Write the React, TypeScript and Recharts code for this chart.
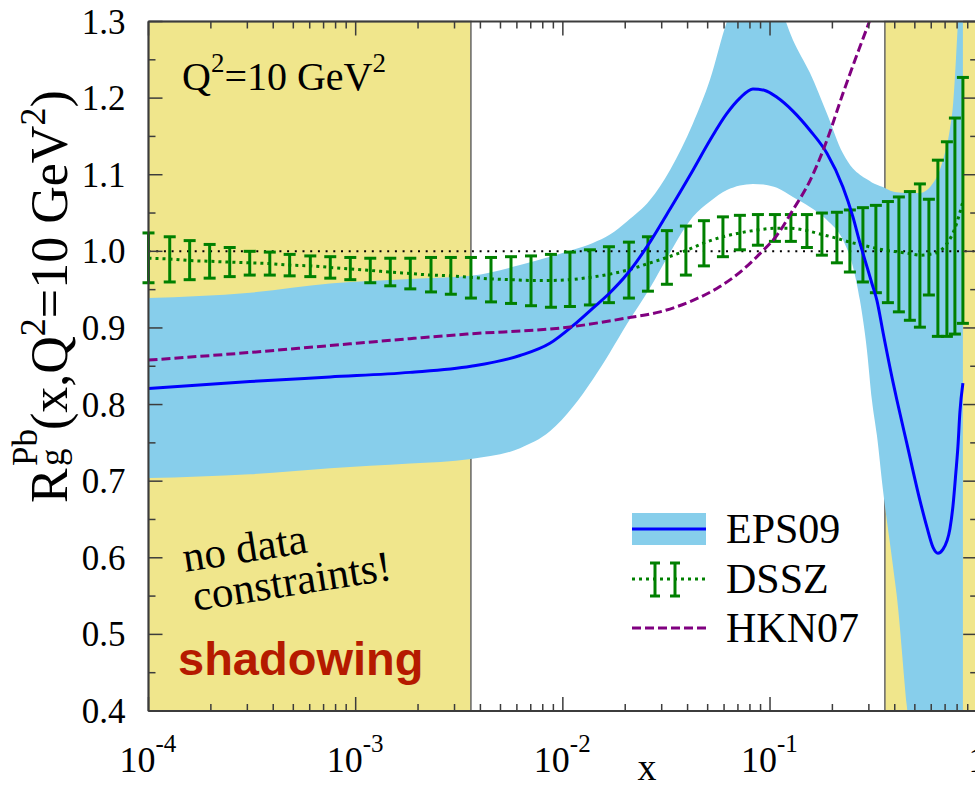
import { ComposedChart, Area, Line, XAxis, YAxis, ReferenceArea, ErrorBar } from 'recharts';

// EPS09 central set and its uncertainty band
const epsX = [
  0.0001, 0.000309, 0.000752, 0.001829, 0.0036, 0.00621, 0.00866, 0.01119, 0.01397, 0.01688, 0.02039,
  0.02633, 0.03287, 0.04245, 0.05129, 0.06194, 0.07155, 0.0827, 0.0945, 0.108, 0.129, 0.1558, 0.1882,
  0.2248, 0.2513, 0.2716, 0.2936, 0.3103, 0.328, 0.3507, 0.3918, 0.4096, 0.4577, 0.5291, 0.5719, 0.6113,
  0.6461, 0.6832, 0.7386, 0.7635, 0.7893, 0.8071, 0.8251, 0.8531,
];
const epsCentral = [
  0.821, 0.83, 0.836, 0.842, 0.85, 0.864, 0.88, 0.903, 0.926, 0.946, 0.97, 1.012, 1.055, 1.106, 1.145,
  1.18, 1.2, 1.212, 1.21, 1.201, 1.183, 1.158, 1.128, 1.084, 1.045, 1.011, 0.98, 0.958, 0.936, 0.895,
  0.83, 0.806, 0.749, 0.675, 0.64, 0.614, 0.606, 0.611, 0.638, 0.667, 0.712, 0.745, 0.79, 0.828,
];
const epsLow = [
  0.704, 0.709, 0.717, 0.723, 0.729, 0.743, 0.765, 0.797, 0.833, 0.868, 0.905, 0.952, 0.998, 1.045, 1.065,
  1.08, 1.086, 1.088, 1.087, 1.083, 1.071, 1.058, 1.041, 1.015, 0.98, 0.936, 0.871, 0.806, 0.76, 0.689,
  0.59, 0.549, 0.406, 0.25, 0.17, 0.1, 0.05, 0.0, -0.05, -0.07, -0.09, -0.1, -0.1, -0.1,
];
const epsHigh = [
  0.939, 0.946, 0.958, 0.964, 0.968, 0.982, 0.993, 1.002, 1.011, 1.022, 1.039, 1.067, 1.106, 1.167, 1.224,
  1.3, 1.34, 1.36, 1.36, 1.33, 1.276, 1.233, 1.18, 1.128, 1.108, 1.1, 1.094, 1.09, 1.087, 1.084,
  1.078, 1.077, 1.076, 1.076, 1.08, 1.089, 1.1, 1.119, 1.16, 1.19, 1.25, 1.3, 1.36, 1.45,
];

// DSSZ central values with error bars
const dsszX = [
  0.0001, 0.0001266, 0.000158, 0.0001973, 0.0002466, 0.000308, 0.000385, 0.00048, 0.000604, 0.000754,
  0.000942, 0.001176, 0.001469, 0.001835, 0.00231, 0.00288, 0.0036, 0.0045, 0.00562, 0.00702, 0.00876,
  0.01082, 0.01351, 0.01669, 0.02084, 0.02575, 0.03179, 0.03926, 0.04797, 0.05925, 0.07155, 0.08741,
  0.1056, 0.1261, 0.1507, 0.178, 0.2103, 0.2429, 0.2808, 0.3243, 0.3707, 0.4188, 0.4732, 0.529, 0.5846,
  0.646, 0.7141, 0.7805, 0.8531,
];
const dsszCentral = [
  0.991, 0.99, 0.988, 0.987, 0.986, 0.985, 0.984, 0.982, 0.981, 0.979, 0.977, 0.975, 0.973, 0.971, 0.969,
  0.968, 0.966, 0.964, 0.963, 0.962, 0.962, 0.963, 0.966, 0.97, 0.976, 0.984, 0.992, 1.001, 1.011, 1.019,
  1.024, 1.028, 1.03, 1.03, 1.027, 1.022, 1.017, 1.012, 1.008, 1.004, 1.001, 0.999, 0.997, 0.995, 0.996,
  0.999, 1.01, 1.03, 1.065,
];
const dsszLow = [
  0.959, 0.96, 0.963, 0.965, 0.967, 0.969, 0.969, 0.968, 0.967, 0.965, 0.963, 0.959, 0.955, 0.951, 0.947,
  0.944, 0.939, 0.934, 0.932, 0.929, 0.927, 0.928, 0.93, 0.933, 0.939, 0.948, 0.957, 0.969, 0.981, 0.993,
  1.002, 1.008, 1.013, 1.013, 1.005, 0.995, 0.985, 0.973, 0.96, 0.946, 0.933, 0.921, 0.91, 0.901, 0.943,
  0.889, 0.889, 0.892, 0.906,
];
const dsszHigh = [
  1.024, 1.019, 1.014, 1.009, 1.005, 1.0, 0.999, 0.996, 0.994, 0.993, 0.992, 0.991, 0.991, 0.991, 0.992,
  0.992, 0.992, 0.992, 0.993, 0.994, 0.996, 0.999, 1.002, 1.006, 1.012, 1.019, 1.027, 1.033, 1.04, 1.045,
  1.047, 1.048, 1.048, 1.048, 1.048, 1.05, 1.051, 1.054, 1.057, 1.06, 1.065, 1.071, 1.078, 1.088, 1.068,
  1.119, 1.143, 1.174, 1.227,
];

// HKN07
const hknX = [
  0.0001, 0.000309, 0.000752, 0.001829, 0.003445, 0.01058, 0.02039, 0.02942, 0.04245, 0.05731, 0.07398,
  0.0894, 0.108, 0.129, 0.1558, 0.1882, 0.2248, 0.2716, 0.3035, 0.3392,
];
const hknValues = [
  0.858, 0.868, 0.877, 0.886, 0.892, 0.901, 0.913, 0.921, 0.936, 0.954, 0.976, 0.997, 1.021, 1.054, 1.092,
  1.145, 1.206, 1.267, 1.302, 1.34,
];

const unityX = [0.0001, 1];
const unityValues = [1, 1];

// shaded x ranges
const lowXRegion = [0.0001, 0.0036];
const highXRegion = [0.3584, 1];

const xMajorTicks = [0.0001, 0.001, 0.01, 0.1, 1];
const xTickExponents = ['-4', '-3', '-2', '-1', ''];
const xMinorTicks = [
  0.0002, 0.0003, 0.0004, 0.0005, 0.0006, 0.0007, 0.0008, 0.0009,
  0.002, 0.003, 0.004, 0.005, 0.006, 0.007, 0.008, 0.009,
  0.02, 0.03, 0.04, 0.05, 0.06, 0.07, 0.08, 0.09,
  0.2, 0.3, 0.4, 0.5, 0.6, 0.7, 0.8, 0.9,
];
const yMajorTicks = [0.4, 0.5, 0.6, 0.7, 0.8, 0.9, 1.0, 1.1, 1.2, 1.3];
const yMinorTicks = [0.45, 0.55, 0.65, 0.75, 0.85, 0.95, 1.05, 1.15, 1.25];

const epsData = epsX.map((x, i) => ({ x, mid: epsCentral[i], band: [epsLow[i], epsHigh[i]] }));
const dsszData = dsszX.map((x, i) => ({
  x,
  mid: dsszCentral[i],
  err: [dsszCentral[i] - dsszLow[i], dsszHigh[i] - dsszCentral[i]],
}));
const hknData = hknX.map((x, i) => ({ x, y: hknValues[i] }));
const unityData = unityX.map((x, i) => ({ x, y: unityValues[i] }));

const allXTicks = [...xMajorTicks, ...xMinorTicks].sort((a, b) => a - b);
const allYTicks = [...yMajorTicks, ...yMinorTicks].sort((a, b) => a - b);

const serif = 'Liberation Serif';
const axisColor = '#3c3c3c';
const khaki = '#f0e68c';
const skyblue = '#87ceeb';
const green = '#008000';
const purple = '#800080';

function BottomTick(props: any) {
  const { x, y, payload } = props;
  const i = xMajorTicks.indexOf(payload.value);
  const major = i >= 0;
  return (
    <g>
      <line x1={x} x2={x} y1={y} y2={y - (major ? 14 : 7)} stroke={axisColor} strokeWidth={1.5} />
      {major && xTickExponents[i] === '' && (
        <text x={x} y={y + 61} textAnchor="middle" fontSize={35} fontFamily={serif} fill="#000">1</text>
      )}
      {major && xTickExponents[i] !== '' && (
        <g fontFamily={serif} fill="#000">
          <text x={x + 7} y={y + 61} textAnchor="end" fontSize={36}>10</text>
          <text x={x + 7} y={y + 41} fontSize={25}>{xTickExponents[i]}</text>
        </g>
      )}
    </g>
  );
}

function TopTick(props: any) {
  const { x, y, payload } = props;
  const major = xMajorTicks.includes(payload.value);
  return <line x1={x} x2={x} y1={y} y2={y + (major ? 14 : 7)} stroke={axisColor} strokeWidth={1.5} />;
}

function LeftTick(props: any) {
  const { x, y, payload } = props;
  const major = yMajorTicks.includes(payload.value);
  return (
    <g>
      <line x1={x} x2={x + (major ? 14 : 7)} y1={y} y2={y} stroke={axisColor} strokeWidth={1.5} />
      {major && (
        <text x={x - 23} y={y + 12} textAnchor="end" fontSize={35} fontFamily={serif} fill="#000">
          {payload.value.toFixed(1)}
        </text>
      )}
    </g>
  );
}

function RightTick(props: any) {
  const { x, y, payload } = props;
  const major = yMajorTicks.includes(payload.value);
  return <line x1={x} x2={x - (major ? 14 : 7)} y1={y} y2={y} stroke={axisColor} strokeWidth={1.5} />;
}

export default function App() {
  return (
    <div
      style={{
        position: 'absolute',
        left: 0,
        top: 0,
        width: 975,
        height: 785,
        overflow: 'hidden',
        background: '#fff',
      }}
    >
      <ComposedChart width={1000} height={785} margin={{ top: 20.5, right: 2.8, bottom: 0, left: 0 }}>
        <XAxis
          dataKey="x"
          type="number"
          scale="log"
          domain={[0.0001, 1]}
          allowDataOverflow
          ticks={allXTicks}
          interval={0}
          tick={<BottomTick />}
          tickLine={false}
          tickSize={0}
          tickMargin={0}
          height={74}
          axisLine={{ stroke: axisColor, strokeWidth: 2 }}
        />
        <XAxis
          xAxisId="top"
          orientation="top"
          dataKey="x"
          type="number"
          scale="log"
          domain={[0.0001, 1]}
          allowDataOverflow
          ticks={allXTicks}
          interval={0}
          tick={<TopTick />}
          tickLine={false}
          tickSize={0}
          tickMargin={0}
          height={1}
          axisLine={{ stroke: axisColor, strokeWidth: 2 }}
        />
        <YAxis
          type="number"
          domain={[0.4, 1.3]}
          allowDataOverflow
          ticks={allYTicks}
          interval={0}
          tick={<LeftTick />}
          tickLine={false}
          tickSize={0}
          tickMargin={0}
          width={148.5}
          axisLine={{ stroke: axisColor, strokeWidth: 2 }}
        />
        <YAxis
          yAxisId="right"
          orientation="right"
          type="number"
          domain={[0.4, 1.3]}
          allowDataOverflow
          ticks={allYTicks}
          interval={0}
          tick={<RightTick />}
          tickLine={false}
          tickSize={0}
          tickMargin={0}
          width={20}
          axisLine={{ stroke: axisColor, strokeWidth: 2 }}
        />

        <ReferenceArea
          x1={lowXRegion[0]}
          x2={lowXRegion[1]}
          y1={0.4}
          y2={1.3}
          fill={khaki}
          fillOpacity={1}
          stroke="#666"
          strokeWidth={1.5}
        />
        <ReferenceArea
          x1={highXRegion[0]}
          x2={highXRegion[1]}
          y1={0.4}
          y2={1.3}
          fill={khaki}
          fillOpacity={1}
          stroke="#666"
          strokeWidth={1.5}
        />

        <Area
          data={epsData}
          dataKey="band"
          type="monotone"
          fill={skyblue}
          fillOpacity={1}
          stroke="none"
          isAnimationActive={false}
          activeDot={false}
        />
        <Line
          data={unityData}
          dataKey="y"
          stroke="#000"
          strokeWidth={2}
          strokeDasharray="2 5.7"
          dot={false}
          activeDot={false}
          isAnimationActive={false}
        />
        <Line
          data={dsszData}
          dataKey="mid"
          type="monotone"
          stroke={green}
          strokeWidth={3}
          strokeDasharray="3 4"
          dot={false}
          activeDot={false}
          isAnimationActive={false}
        >
          <ErrorBar dataKey="err" direction="y" width={6} stroke={green} strokeWidth={3} />
        </Line>
        <Line
          data={epsData}
          dataKey="mid"
          type="monotone"
          stroke="#0000ff"
          strokeWidth={3}
          dot={false}
          activeDot={false}
          isAnimationActive={false}
        />
        <Line
          data={hknData}
          dataKey="y"
          type="monotone"
          stroke={purple}
          strokeWidth={3}
          strokeDasharray="9 4"
          dot={false}
          activeDot={false}
          isAnimationActive={false}
        />
      </ComposedChart>

      {/* annotations, axis titles and legend on top of the plot */}
      <svg
        width={975}
        height={785}
        style={{ position: 'absolute', left: 0, top: 0, pointerEvents: 'none' }}
        fontFamily={serif}
        fill="#000"
      >
        <text x={182} y={90} fontSize={40}>
          Q<tspan dy={-18} fontSize={27}>2</tspan>
          <tspan dy={18} fontSize={40}>=10 GeV</tspan>
          <tspan dy={-18} fontSize={27}>2</tspan>
        </text>
        <text x={185} y={572} fontSize={43} transform="rotate(-9 185 572)">no data</text>
        <text x={195} y={611} fontSize={43} transform="rotate(-9 195 611)">constraints!</text>
        <text x={178} y={675} fontSize={47} fontWeight="bold" fill="#b51a00" fontFamily="Liberation Sans">
          shadowing
        </text>

        <g transform="translate(67 503) rotate(-90)">
          <text x={0} y={0} fontSize={52}>R</text>
          <text x={37} y={-3} fontSize={35}>g</text>
          <text x={37} y={-30} fontSize={35}>Pb</text>
          <text x={73} y={0} fontSize={52}>
            (x,Q<tspan dy={-22} fontSize={36}>2</tspan>
            <tspan dy={22} fontSize={52}>=10 GeV</tspan>
            <tspan dy={-22} fontSize={36}>2</tspan>
            <tspan dy={22} fontSize={52}>)</tspan>
          </text>
        </g>
        <text x={647} y={780} fontSize={38} textAnchor="middle">x</text>

        <rect x={632} y={513} width={74} height={32} fill={skyblue} />
        <line x1={632} x2={706} y1={529} y2={529} stroke="#0000ff" strokeWidth={3} />
        <text x={726} y={543} fontSize={42}>EPS09</text>

        <line x1={632} x2={706} y1={579} y2={579} stroke={green} strokeWidth={3} strokeDasharray="3 4" />
        {[655, 675].map((bx) => (
          <g key={bx} stroke={green} strokeWidth={3}>
            <line x1={bx} x2={bx} y1={563} y2={596} />
            <line x1={bx - 5} x2={bx + 5} y1={563} y2={563} />
            <line x1={bx - 5} x2={bx + 5} y1={596} y2={596} />
          </g>
        ))}
        <text x={726} y={593} fontSize={42}>DSSZ</text>

        <line x1={632} x2={706} y1={628} y2={628} stroke={purple} strokeWidth={3} strokeDasharray="9 4" />
        <text x={726} y={642} fontSize={42}>HKN07</text>
      </svg>
    </div>
  );
}
